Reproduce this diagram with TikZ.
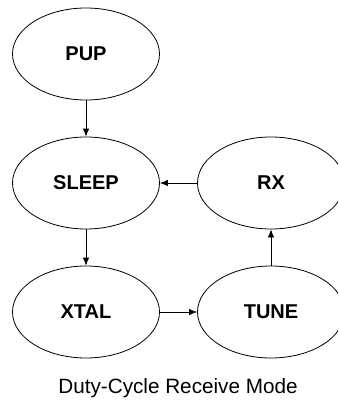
\documentclass[tikz,border=0pt]{standalone}
\usepackage{fontspec}
\setmainfont{Liberation Sans}
\usepackage{tikz}
\usetikzlibrary{shapes.geometric}
\usetikzlibrary{arrows.meta}

\tikzset{
  state/.style={ellipse,draw,line width=0.8pt,minimum width=147pt,minimum height=92pt,
    inner sep=0pt,font=\fontsize{20}{24}\selectfont\bfseries},
  trans/.style={line width=0.8pt,-{Latex[length=8pt,width=6.5pt]}}
}

\begin{document}
\begin{tikzpicture}[x=1pt,y=-1pt]
\clip (0,0) rectangle (338,401);
\node[state] (pup) at (86,54) {PUP};
\node[state] (sleep) at (86,183) {SLEEP};
\node[state] (rx) at (271,183) {RX};
\node[state] (xtal) at (86,312) {XTAL};
\node[state] (tune) at (271,312) {TUNE};
\node[font=\fontsize{20.7}{24}\selectfont] (cap) at (178,388) {Duty-Cycle Receive Mode};

\draw[trans] (pup) -- (sleep);
\draw[trans] (sleep) -- (xtal);
\draw[trans] (xtal) -- (tune);
\draw[trans] (tune) -- (rx); % back up
\draw[trans] (rx) -- (sleep);
\end{tikzpicture}
\end{document}
